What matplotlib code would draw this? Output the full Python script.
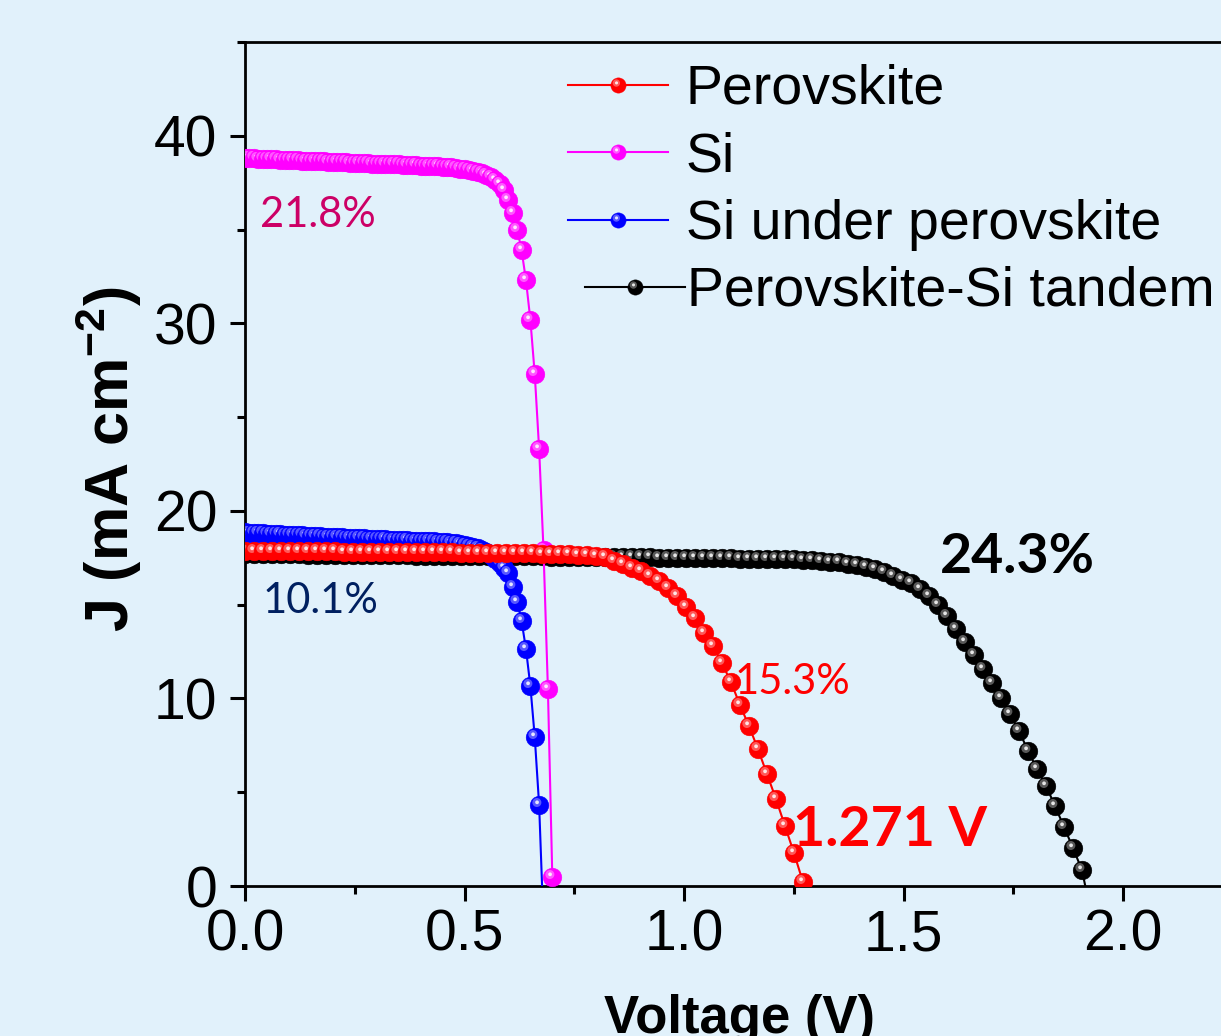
import numpy as np
import matplotlib
matplotlib.use('Agg')
import matplotlib.pyplot as plt
from matplotlib.path import Path
from matplotlib.lines import Line2D
from matplotlib.legend_handler import HandlerTuple
from matplotlib.ticker import MultipleLocator

plt.rcParams['font.family'] = ['Liberation Sans', 'DejaVu Sans']
plt.rcParams['mathtext.fontset'] = 'custom'
plt.rcParams['mathtext.rm'] = 'Liberation Sans'
plt.rcParams['mathtext.bf'] = 'Liberation Sans:bold'

# ---------------- data ----------------
# voltage sweep for the Si cells (V)
V_fine = [0.00, 0.01, 0.02, 0.03, 0.04, 0.05, 0.06, 0.07, 0.08, 0.09,
          0.10, 0.11, 0.12, 0.13, 0.14, 0.15, 0.16, 0.17, 0.18, 0.19,
          0.20, 0.21, 0.22, 0.23, 0.24, 0.25, 0.26, 0.27, 0.28, 0.29,
          0.30, 0.31, 0.32, 0.33, 0.34, 0.35, 0.36, 0.37, 0.38, 0.39,
          0.40, 0.41, 0.42, 0.43, 0.44, 0.45, 0.46, 0.47, 0.48, 0.49,
          0.50, 0.51, 0.52, 0.53, 0.54, 0.55, 0.56, 0.57, 0.58, 0.59,
          0.60, 0.61, 0.62, 0.63, 0.64, 0.65, 0.66, 0.67, 0.68, 0.69,
          0.70]

# voltage sweep for perovskite and tandem cells (V)
V_sweep = [0.000, 0.0205, 0.041, 0.0615, 0.082, 0.1025, 0.123, 0.1435, 0.164, 0.1845,
           0.205, 0.2255, 0.246, 0.2665, 0.287, 0.3075, 0.328, 0.3485, 0.369, 0.3895,
           0.410, 0.4305, 0.451, 0.4715, 0.492, 0.5125, 0.533, 0.5535, 0.574, 0.5945,
           0.615, 0.6355, 0.656, 0.6765, 0.697, 0.7175, 0.738, 0.7585, 0.779, 0.7995,
           0.820, 0.8405, 0.861, 0.8815, 0.902, 0.9225, 0.943, 0.9635, 0.984, 1.0045,
           1.025, 1.0455, 1.066, 1.0865, 1.107, 1.1275, 1.148, 1.1685, 1.189, 1.2095,
           1.230, 1.2505, 1.271, 1.2915, 1.312, 1.3325, 1.353, 1.3735, 1.394, 1.4145,
           1.435, 1.4555, 1.476, 1.4965, 1.517, 1.5375, 1.558, 1.5785, 1.599, 1.6195,
           1.640, 1.6605, 1.681, 1.7015, 1.722, 1.7425, 1.763, 1.7835, 1.804, 1.8245,
           1.845, 1.8655, 1.886, 1.9065, 1.927]

J_si = [38.80, 38.81, 38.79, 38.78, 38.78, 38.76, 38.76, 38.74, 38.73, 38.73,
        38.71, 38.70, 38.70, 38.68, 38.67, 38.67, 38.65, 38.64, 38.64, 38.62,
        38.61, 38.60, 38.60, 38.58, 38.57, 38.57, 38.55, 38.54, 38.54, 38.52,
        38.51, 38.50, 38.50, 38.48, 38.47, 38.47, 38.45, 38.44, 38.44, 38.42,
        38.41, 38.40, 38.39, 38.38, 38.37, 38.35, 38.33, 38.31, 38.28, 38.25,
        38.22, 38.18, 38.14, 38.09, 38.02, 37.93, 37.82, 37.65, 37.42, 37.10,
        36.60, 35.90, 35.00, 33.90, 32.30, 30.20, 27.30, 23.30, 17.90, 10.50,
        0.50]

J_si_under = [18.85, 18.84, 18.82, 18.81, 18.80, 18.79, 18.78, 18.76, 18.75, 18.74,
              18.73, 18.72, 18.70, 18.69, 18.68, 18.67, 18.66, 18.65, 18.63, 18.62,
              18.61, 18.60, 18.59, 18.58, 18.56, 18.55, 18.54, 18.53, 18.52, 18.51,
              18.50, 18.49, 18.48, 18.47, 18.46, 18.45, 18.44, 18.43, 18.42, 18.41,
              18.40, 18.39, 18.38, 18.37, 18.36, 18.34, 18.32, 18.30, 18.27, 18.24,
              18.20, 18.15, 18.09, 18.01, 17.92, 17.80, 17.64, 17.44, 17.20, 16.95,
              16.69, 15.95, 15.15, 14.13, 12.64, 10.67, 7.95, 4.32, -2.10]

J_perovskite = [17.88, 17.88, 17.87, 17.87, 17.86, 17.86, 17.85, 17.85, 17.85, 17.84,
                17.84, 17.83, 17.83, 17.83, 17.82, 17.82, 17.82, 17.81, 17.81, 17.80,
                17.80, 17.80, 17.79, 17.79, 17.78, 17.78, 17.77, 17.77, 17.76, 17.76,
                17.75, 17.74, 17.73, 17.72, 17.71, 17.70, 17.68, 17.66, 17.63, 17.60,
                17.55, 17.35, 17.15, 16.98, 16.78, 16.53, 16.28, 15.88, 15.45, 14.88,
                14.28, 13.49, 12.80, 11.88, 10.87, 9.65, 8.53, 7.30, 5.97, 4.64,
                3.20, 1.76, 0.21]

J_tandem = [17.70, 17.70, 17.69, 17.69, 17.68, 17.68, 17.68, 17.67, 17.67, 17.66,
            17.66, 17.66, 17.65, 17.65, 17.64, 17.64, 17.64, 17.63, 17.63, 17.62,
            17.62, 17.62, 17.61, 17.61, 17.60, 17.60, 17.60, 17.59, 17.59, 17.58,
            17.58, 17.58, 17.57, 17.57, 17.56, 17.56, 17.56, 17.55, 17.55, 17.54,
            17.54, 17.54, 17.53, 17.53, 17.52, 17.52, 17.51, 17.51, 17.50, 17.50,
            17.49, 17.49, 17.48, 17.48, 17.47, 17.46, 17.46, 17.45, 17.44, 17.43,
            17.42, 17.41, 17.39, 17.36, 17.33, 17.30, 17.25, 17.19, 17.10, 17.00,
            16.88, 16.72, 16.53, 16.33, 16.13, 15.85, 15.48, 14.97, 14.40, 13.70,
            13.00, 12.30, 11.55, 10.80, 10.00, 9.18, 8.27, 7.22, 6.24, 5.35,
            4.27, 3.16, 2.03, 0.85, -1.45]

series_labels = ['Perovskite', 'Si', 'Si under perovskite', 'Perovskite-Si tandem']
x_ticks = [0.0, 0.5, 1.0, 1.5, 2.0]
y_ticks = [0, 10, 20, 30, 40]
eff_labels = ['21.8%', '10.1%', '15.3%', '24.3%']
voc_label = '1.271 V'

# ---------------- style ----------------
BG = '#E1F1FB'
C_PERO = '#FF0000'
C_SI = '#FF00FF'
C_SIU = '#0000FF'
C_TAN = '#000000'
MS = 13.5
LW = 1.5


def shine_path(cx, cy, r):
    circ = Path.circle(center=(cx, cy), radius=r)
    verts = np.vstack([[[-1.0, -1.0], [1.0, 1.0]], circ.vertices])
    codes = np.concatenate([[Path.MOVETO, Path.MOVETO], circ.codes])
    return Path(verts, codes)


GLOW = shine_path(-0.28, 0.32, 0.48)
SPARK = shine_path(-0.26, 0.34, 0.2)

fig = plt.figure(figsize=(12.21, 10.36), dpi=100, facecolor=BG)
ax = fig.add_axes([245 / 1221, 150 / 1036, 1009.7 / 1221, 844 / 1036])
ax.set_facecolor(BG)


def draw(V, J, color, base_z):
    V = V[:len(J)]
    ax.plot(V, J, '-', color=color, lw=LW, zorder=base_z)
    n = len(J)
    for i in range(n):
        z = base_z + 0.01 + i * 1e-4
        ax.plot([V[i]], [J[i]], ls='none', marker='o', ms=MS, mfc=color,
                mec=color, mew=0.3, zorder=z)
        ax.plot([V[i]], [J[i]], ls='none', marker=GLOW, ms=MS, mfc='white',
                mew=0, alpha=0.35, zorder=z + 3e-5)
        ax.plot([V[i]], [J[i]], ls='none', marker=SPARK, ms=MS, mfc='white',
                mew=0, alpha=0.85, zorder=z + 6e-5)


draw(V_sweep, J_tandem, C_TAN, 2)
draw(V_fine, J_si, C_SI, 3)
draw(V_fine, J_si_under, C_SIU, 4)
draw(V_sweep, J_perovskite, C_PERO, 5)

ax.set_xlim(0, 2.3)
ax.set_ylim(0, 45)
ax.set_xticks(x_ticks)
ax.set_xticklabels([f'{t:.1f}' for t in x_ticks])
ax.set_yticks(y_ticks)
ax.set_yticklabels([str(t) for t in y_ticks])
ax.xaxis.set_minor_locator(MultipleLocator(0.25))
ax.yaxis.set_minor_locator(MultipleLocator(5))
ax.tick_params(which='both', direction='out', width=2.2, top=False, right=False)
ax.tick_params(which='major', length=11, labelsize=41)
ax.tick_params(which='minor', length=6)
ax.tick_params(axis='x', which='major', pad=5)
ax.tick_params(axis='y', which='major', pad=9)
for s in ax.spines.values():
    s.set_linewidth(2.0)

ax.set_xlabel('Voltage (V)', fontsize=38, fontweight='bold')
ax.xaxis.set_label_coords(0.49, -0.128)
ax.set_ylabel('J (mA cm$^{\\mathbf{-2}}$)', fontsize=44, fontweight='bold')
ax.yaxis.set_label_coords((144 - 245) / 1009.7, 0.505)

# annotations
ax.text(0.034, 35.8, eff_labels[0], color='#CC0066', fontsize=30, family='Lato',
        ha='left', va='center')
ax.text(0.041, 15.2, eff_labels[1], color='#002060', fontsize=30, family='Lato',
        ha='left', va='center')
ax.text(1.116, 10.9, eff_labels[2], color='#FF0000', fontsize=30, family='Lato',
        ha='left', va='center')
ax.text(1.583, 17.55, eff_labels[3], color='black', fontsize=40, family='Lato',
        fontweight='bold', ha='left', va='center')
ax.text(1.248, 3.0, voc_label, color='#FF0000', fontsize=40, family='Lato',
        fontweight='bold', ha='left', va='center')


# legend
def handle(color):
    base = Line2D([], [], color=color, lw=LW, marker='o', ms=11, mfc=color, mec=color, mew=0.3)
    glow = Line2D([], [], ls='none', marker=GLOW, ms=11, mfc='white', mew=0, alpha=0.35)
    spark = Line2D([], [], ls='none', marker=SPARK, ms=11, mfc='white', mew=0, alpha=0.85)
    return (base, glow, spark)


hmap = {tuple: HandlerTuple(ndivide=1)}
leg1 = ax.legend([handle(C_PERO), handle(C_SI), handle(C_SIU)], series_labels[:3],
                 handler_map=hmap, loc='upper left',
                 bbox_to_anchor=(568 / 1221, 1 - 64 / 1036), bbox_transform=fig.transFigure,
                 frameon=False, fontsize=40, handlelength=1.8, handletextpad=0.32,
                 labelspacing=0.28, borderpad=0, borderaxespad=0, numpoints=1)
ax.add_artist(leg1)
leg2 = ax.legend([handle(C_TAN)], series_labels[3:],
                 handler_map=hmap, loc='upper left',
                 bbox_to_anchor=(585 / 1221, 1 - 266 / 1036), bbox_transform=fig.transFigure,
                 frameon=False, fontsize=40, handlelength=1.8, handletextpad=0.04,
                 labelspacing=0.1, borderpad=0, borderaxespad=0, numpoints=1)

fig.savefig('out.png', dpi=100, facecolor=BG)
